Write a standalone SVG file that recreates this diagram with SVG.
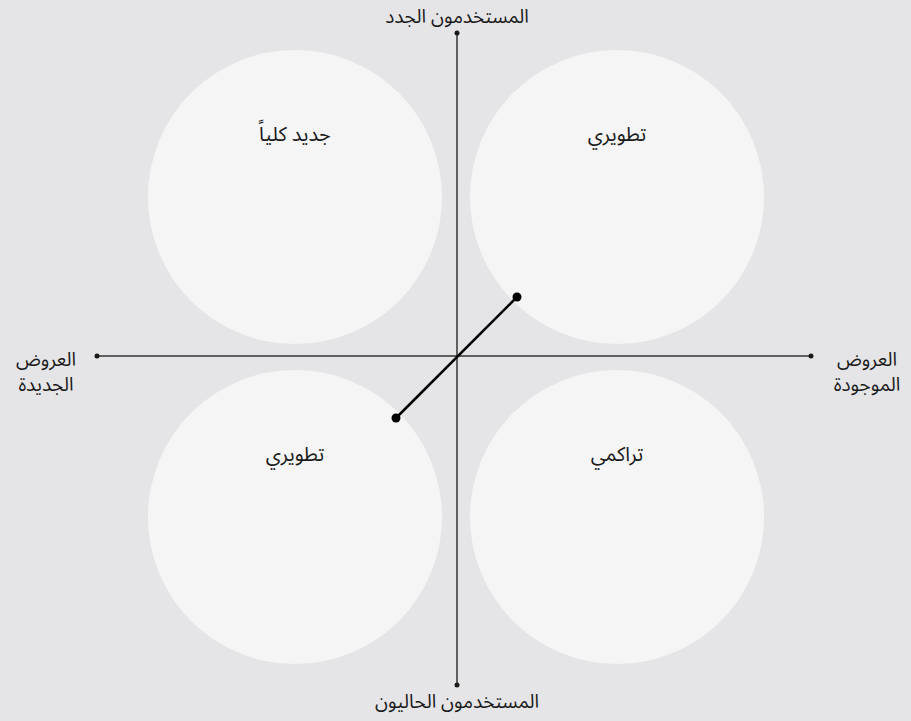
<svg xmlns="http://www.w3.org/2000/svg" width="911" height="721" viewBox="0 0 911 721">
<style>
text{font-family:"Noto Sans Arabic","Noto Sans","DejaVu Sans",sans-serif;font-size:20px;fill:#1a1a1a;text-anchor:middle}
.s{font-size:19px}
.c{fill:#f5f5f6}
.ax{stroke:#333;stroke-width:1.5}
.dot{fill:#1a1a1a}
</style>
<rect width="911" height="721" fill="#e5e5e7"/>
<g id="q-tl"><circle class="c" cx="295" cy="197" r="147"/><text x="295" y="141">جديد كلياً</text></g>
<g id="q-tr"><circle class="c" cx="617" cy="197" r="147"/><text x="617" y="141">تطويري</text></g>
<g id="q-bl"><circle class="c" cx="295" cy="517" r="147"/><text x="295" y="461">تطويري</text></g>
<g id="q-br"><circle class="c" cx="617" cy="517" r="147"/><text x="617" y="461">تراكمي</text></g>
<g id="connectors">
<line class="ax" x1="457" y1="33" x2="457" y2="685"/>
<line class="ax" x1="97" y1="356" x2="811" y2="356"/>
<circle class="dot" cx="457" cy="33" r="2.5"/>
<circle class="dot" cx="457" cy="685" r="2.5"/>
<circle class="dot" cx="97" cy="356" r="2.5"/>
<circle class="dot" cx="811" cy="356" r="2.5"/>
<line x1="396" y1="418" x2="517" y2="297" stroke="#000" stroke-width="2.5"/>
<circle cx="396" cy="418" r="4.5" fill="#000"/>
<circle cx="517" cy="297" r="4.5" fill="#000"/>
</g>
<g id="label-top"><text x="457" y="23" class="s">المستخدمون الجدد</text></g>
<g id="label-bottom"><text x="457" y="708" class="s">المستخدمون الحاليون</text></g>
<g id="label-left"><text x="46" y="366" class="s">العروض</text><text x="46" y="391" class="s">الجديدة</text></g>
<g id="label-right"><text x="867" y="366" class="s">العروض</text><text x="867" y="391" class="s">الموجودة</text></g>
</svg>
